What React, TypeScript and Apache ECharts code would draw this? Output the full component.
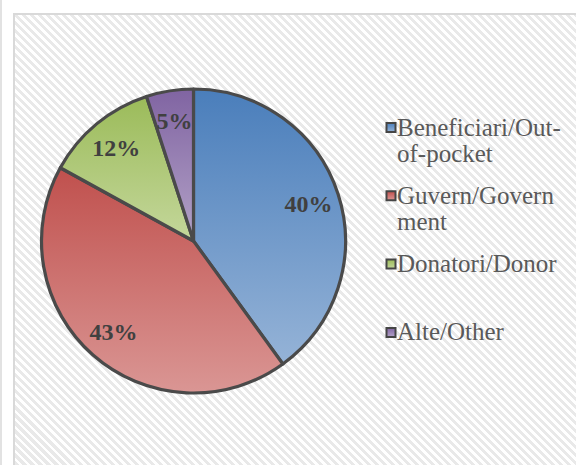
import { useEffect, useRef } from 'react';
import * as echarts from 'echarts';

const categories = ['Beneficiari/Out-of-pocket', 'Guvern/Government', 'Donatori/Donor', 'Alte/Other'];
const legendLabels = ['Beneficiari/Out-\nof-pocket', 'Guvern/Govern\nment', 'Donatori/Donor', 'Alte/Other'];
const shares = [40, 43, 12, 5];
const topColors = ['#4a7ebb', '#c0504d', '#9bbb59', '#8064a2'];
const bottomColors = ['#95b3d7', '#da9694', '#c4d79b', '#b3a2c7'];

const SERIF = "'Liberation Serif', 'Times New Roman', Times, 'DejaVu Serif', serif";

const grad = (i: number) =>
  new echarts.graphic.LinearGradient(0, 0, 0, 1, [
    { offset: 0, color: topColors[i] },
    { offset: 1, color: bottomColors[i] },
  ]);

export default function App() {
  const ref = useRef<HTMLDivElement>(null);
  useEffect(() => {
    if (!ref.current) return;
    const chart = echarts.init(ref.current, null, { renderer: 'svg' });
    const cx = 193.5;
    const cy = 241;
    const r = 152;
    const legendTop = 127.5;
    const slot = 68.3;
    const graphics: any[] = [];
    categories.forEach((_, i) => {
      const c = legendTop + i * slot;
      graphics.push({
        type: 'rect',
        shape: { x: 386.5, y: c - 4.5, width: 9, height: 9 },
        style: { fill: grad(i), stroke: '#454545', lineWidth: 2 },
        silent: true,
      });
      graphics.push({
        type: 'text',
        x: 397,
        y: c - 13.5,
        style: {
          text: legendLabels[i],
          fontFamily: SERIF,
          fontSize: 25,
          fill: '#595959',
          lineHeight: 26,
          verticalAlign: 'top',
          align: 'left',
        },
        silent: true,
      });
    });
    chart.setOption({
      animation: false,
      graphic: graphics,
      series: [
        {
          type: 'pie',
          center: [cx, cy],
          radius: r,
          startAngle: 90,
          clockwise: true,
          silent: true,
          label: { show: false },
          labelLine: { show: false },
          itemStyle: { borderColor: '#4a4a4a', borderWidth: 3.2 },
          data: categories.map((name, i) => ({
            name,
            value: shares[i],
            itemStyle: { color: grad(i) },
          })),
        },
        {
          type: 'pie',
          center: [cx, cy],
          radius: [84, r],
          startAngle: 90,
          clockwise: true,
          silent: true,
          itemStyle: { color: 'rgba(0,0,0,0)', borderWidth: 0 },
          labelLine: { show: false },
          label: {
            show: true,
            position: 'inside',
            formatter: '{c}%',
            fontFamily: SERIF,
            fontWeight: 'bold',
            fontSize: 24,
            color: '#404040',
          },
          data: categories.map((name, i) => ({ name, value: shares[i] })),
        },
      ],
    });
    return () => chart.dispose();
  }, []);
  return (
    <div style={{ position: 'fixed', left: 0, top: 0, width: 576, height: 465, background: '#ffffff', overflow: 'hidden' }}>
      <div style={{ position: 'absolute', left: 0, top: 0, width: 2, height: 465, background: '#e2e2e2' }} />
      <div
        style={{
          position: 'absolute',
          left: 13,
          top: 13,
          width: 580,
          height: 470,
          borderLeft: '2px solid #d9d9d9',
          borderTop: '2px solid #d9d9d9',
          background: 'repeating-linear-gradient(45deg, #ffffff 0px, #ffffff 2.8px, #e9e9e9 2.8px, #e9e9e9 5.66px)',
        }}
      />
      <div ref={ref} style={{ position: 'absolute', left: 0, top: 0, width: 576, height: 465 }} />
    </div>
  );
}
